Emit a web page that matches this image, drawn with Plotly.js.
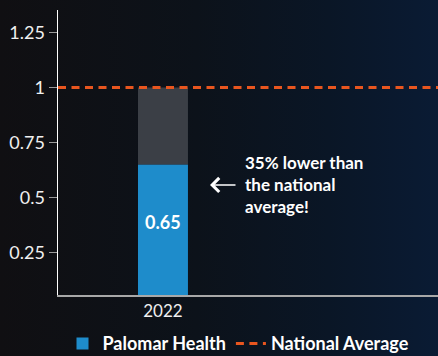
<!DOCTYPE html>
<html>
<head>
<meta charset="utf-8">
<script src="https://cdn.plot.ly/plotly-3.0.1.min.js"></script>
<style>
html,body{margin:0;padding:0;width:438px;height:356px;overflow:hidden;
background:linear-gradient(90deg,#100f12 0%,#0c121a 45%,#0a1626 75%,#0a1b34 100%);}
#chart{width:438px;height:356px;}
</style>
</head>
<body>
<div id="chart"></div>
<script>
const years = [2022];
const palomar = [0.65];
const nationalAvg = 1;
const yTicks = [0.25, 0.5, 0.75, 1, 1.25];
const yTickText = ['0.25', '0.5', '0.75', '1', '1.25'];
const noteText = '35% lower than<br>the national<br>average!';

const gap = palomar.map(v => nationalAvg - v);
const xs = years.map((y, i) => i);

const traces = [
  {type:'bar', x: xs, y: palomar, name:'Palomar Health',
   marker:{color:'#1e8ccb'}, width:0.238, hoverinfo:'skip'},
  {type:'bar', x: xs, y: gap, base: palomar, name:'gap', showlegend:false,
   marker:{color:'rgba(75,79,86,0.75)'}, width:0.238, hoverinfo:'skip'}
];

const barLabels = palomar.map((v, i) => ({
  xref:'x', yref:'y', x: xs[i], y: v, text: v.toFixed(2), showarrow:false,
  yanchor:'top', yshift:-45,
  font:{family:'Lato', size:18, color:'#ffffff', weight:700}
}));

const layout = {
  width:438, height:356,
  margin:{l:58, r:0, t:10, b:61, autoexpand:false},
  paper_bgcolor:'rgba(0,0,0,0)', plot_bgcolor:'rgba(0,0,0,0)',
  barmode:'overlay',
  font:{family:'Lato', color:'#f2f2f2'},
  xaxis:{range:[-0.5,1.31], tickvals: xs, ticktext: years.map(String),
         showgrid:false, zeroline:false, showline:true, linecolor:'#a8a8a8', linewidth:1.5,
         ticks:'', tickfont:{size:17, color:'#f0f0f0', family:'Lato'}, fixedrange:true},
  yaxis:{range:[0.057,1.352], tickvals:yTicks, ticktext:yTickText,
         showgrid:false, zeroline:false, showline:true, linecolor:'#ffffff', linewidth:1.5,
         ticks:'outside', ticklen:8, tickcolor:'#9a9a9a', tickwidth:1.5,
         tickfont:{size:18, color:'#f0f0f0', family:'Lato'}, fixedrange:true},
  shapes:[{type:'line', xref:'paper', x0:0, x1:1, yref:'y', y0:nationalAvg, y1:nationalAvg,
           line:{color:'#e8561f', width:3, dash:'8px,5.5px'},
           showlegend:true, name:'National Average'}],
  annotations:[{xref:'paper', yref:'y', x:0.487, y:0.557, text:noteText, showarrow:false,
                xanchor:'left', yanchor:'middle', align:'left',
                font:{family:'Lato', size:17, color:'#ffffff', weight:700}},
               {xref:'paper', yref:'y', x:0.4, y:0.557, ax:27, ay:0, text:'',
                showarrow:true, arrowhead:4, arrowsize:1.7, arrowcolor:'#ffffff', arrowwidth:1.6}
              ].concat(barLabels),
  legend:{orientation:'h', x:0.475, xanchor:'center', yref:'paper', y:-0.171, yanchor:'middle',
          font:{family:'Lato', size:18, color:'#ffffff', weight:700},
          bgcolor:'rgba(0,0,0,0)'},
  showlegend:true
};

Plotly.newPlot('chart', traces, layout, {displayModeBar:false, staticPlot:true});
</script>
</body>
</html>
